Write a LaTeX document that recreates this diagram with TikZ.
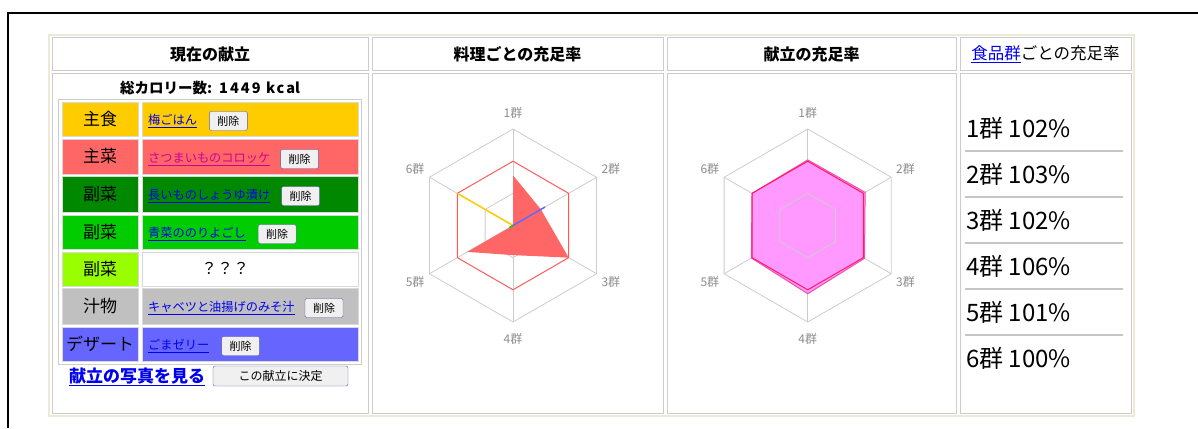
\documentclass[tikz,border=0pt]{standalone}
\usepackage{fontspec}
\setmainfont{Noto Sans CJK JP}
\usetikzlibrary{positioning}
\definecolor{linkblue}{HTML}{0000EE}
\definecolor{linkvisit}{HTML}{CC0099}
\definecolor{btngray}{HTML}{F0F0F0}
\definecolor{tblframe}{HTML}{ECE9D8}
\definecolor{shushoku}{HTML}{FFCC00}
\definecolor{shusai}{HTML}{FF6666}
\definecolor{fukusaiA}{HTML}{008800}
\definecolor{fukusaiB}{HTML}{00CC00}
\definecolor{fukusaiC}{HTML}{99FF00}
\definecolor{shirumono}{HTML}{C0C0C0}
\definecolor{dessert}{HTML}{6666FF}
\definecolor{gridgray}{HTML}{CCCCCC}
\definecolor{fullred}{HTML}{FF5A5A}
\definecolor{menupink}{HTML}{FF99FF}
\definecolor{menuedge}{HTML}{FF1A66}

\begin{document}
\begin{tikzpicture}[x=1pt, y=-1pt,
  hcell/.style={draw=gray!40, line width=1pt, minimum height=32pt, inner sep=0pt,
    font=\fontsize{16}{16}\selectfont\bfseries},
  bcell/.style={draw=gray!40, line width=1pt, minimum height=340pt, inner sep=0pt},
  kind/.style={draw=gray!30, minimum width=76pt, inner sep=0pt,
    font=\fontsize{17}{17}\selectfont},
  dish/.style={draw=gray!30, minimum width=216pt, inner sep=0pt},
  link/.style={anchor=west, inner sep=0pt, text=linkblue, font=\fontsize{12.2}{12.2}\selectfont},
  btn/.style={draw=gray!70!blue, fill=btngray, rounded corners=2pt, minimum width=38pt,
    minimum height=19pt, inner sep=0pt, font=\fontsize{11}{11}\selectfont},
  grid/.style={draw=gridgray, line width=0.8pt},
  axlabel/.style={text=gray!90, font=\fontsize{12}{12}\selectfont},
  score/.style={anchor=west, inner sep=0pt, font=\fontsize{24}{24}\selectfont},
  sep/.style={draw=gray!45, line width=1.5pt}]
  \useasboundingbox (0,0) rectangle (1198,428);
  \draw[line width=2pt] (8,428) -- (8,13) -- (1198,13);
  \draw[tblframe, line width=2pt] (49,35) rectangle (1134,416);

  % headers
  \node[hcell, minimum width=316pt] (h1) at (210,54) {現在の献立};
  \node[hcell, minimum width=291pt] (h2) at (517.5,54) {料理ごとの充足率};
  \node[hcell, minimum width=289pt] (h3) at (811.5,54) {献立の充足率};
  \node[hcell, minimum width=171pt, font=\fontsize{16.5}{16.5}\selectfont] (h4) at (1045.5,54)
    {{\color{linkblue}\underline{食品群}}ごとの充足率};
  \node[bcell, minimum width=316pt] (c1) at (210,243) {};
  \node[bcell, minimum width=291pt] (c2) at (517.5,243) {};
  \node[bcell, minimum width=289pt] (c3) at (811.5,243) {};
  \node[bcell, minimum width=171pt] (c4) at (1045.5,243) {};

  % current menu
  \node[font=\fontsize{14.5}{14.5}\selectfont\bfseries] (kcal) at (210,88)
    {総カロリー数{\addfontfeatures{LetterSpace=14}: 1449 kca}l};
  \draw[gray!40, line width=1pt] (58,99) rectangle (361,364);
  \foreach \y/\h/\col/\lbl [count=\i] in {119/34/shushoku/主食, 156.5/35/shusai/主菜,
      194/36/fukusaiA/副菜, 232/34/fukusaiB/副菜, 269/34/fukusaiC/副菜,
      306/36/shirumono/汁物, 344/34/dessert/デザート} {
    \node[kind, fill=\col, minimum height=\h pt] (k\i) at (100,\y) {\lbl};
    \node[dish, fill=\col, minimum height=\h pt] (d\i) at (250,\y) {};
  }
  \fill[white] (d5.south west) rectangle (d5.north east);
  \draw[gray!30] (d5.south west) rectangle (d5.north east);

  \node[link] (l1) at (148,121) {\underline{梅ごはん}};
  \node[btn, right=12pt of l1] (b1) {削除};
  \node[link, text=linkvisit] (l2) at (148,159) {\underline{さつまいものコロッケ}};
  \node[btn, right=10pt of l2] (b2) {削除};
  \node[link] (l3) at (148,196) {\underline{長いものしょうゆ漬け}};
  \node[btn, right=11pt of l3] (b3) {削除};
  \node[link] (l4) at (148,234) {\underline{青菜ののりよごし}};
  \node[btn, right=12pt of l4] (b4) {削除};
  \node[font=\fontsize{16}{16}\selectfont] (q5) at (225,268) {？？？};
  \node[link] (l6) at (148,308) {\underline{キャベツと油揚げのみそ汁}};
  \node[btn, right=10pt of l6] (b6) {削除};
  \node[link] (l7) at (148,346) {\underline{ごまゼリー}};
  \node[btn, right=12pt of l7] (b7) {削除};

  \node[link, font=\fontsize{17}{17}\selectfont\bfseries] (photo) at (69,377) {\underline{献立の写真を見る}};
  \node[btn, minimum width=135pt, minimum height=20pt, font=\fontsize{12}{12}\selectfont]
    (decide) at (280.5,376) {この献立に決定};

  % radar per dish
  \coordinate (ctr1) at (513,225.5);
  \begin{scope}[shift={(ctr1)}]
    \draw[grid] (-90:96.5) \foreach \a in {-30,30,...,210} { -- (\a:96.5) } -- cycle;
    \draw[grid] (-90:32.2) \foreach \a in {-30,30,...,210} { -- (\a:32.2) } -- cycle;
    \foreach \a in {-90,-30,...,210} \draw[grid] (0,0) -- (\a:96.5);
    \fill[shusai] (-90:50.2) -- (-30:32.2) -- (30:64.3) -- (90:29.6) -- (150:52.8) -- (0,0) -- cycle;
    \draw[fullred, line width=1pt] (-90:64.3) \foreach \a in {-30,30,...,210} { -- (\a:64.3) } -- cycle;
    \draw[shushoku, line width=1.5pt] (0,0) -- (210:64.3);
    \draw[dessert, line width=1.5pt] (0,0) -- (-30:37);
    \draw[fukusaiB, line width=1.5pt] (0,0) -- (150:4);
    \foreach \k in {1,...,6}
      \node[axlabel] (ga\k) at ({-150+60*\k}:113) {\k 群};
  \end{scope}

  % radar for the whole menu
  \coordinate (ctr2) at (807.7,225.5);
  \begin{scope}[shift={(ctr2)}]
    \draw[grid] (-90:96.5) \foreach \a in {-30,30,...,210} { -- (\a:96.5) } -- cycle;
    \foreach \a in {-90,-30,...,210} \draw[grid] (0,0) -- (\a:96.5);
    \filldraw[fill=menupink, draw=magenta!70, line width=1pt]
      (-90:65.6) -- (-30:66.3) -- (30:65.6) -- (90:68.2) -- (150:65.0) -- (210:64.3) -- cycle;
    \draw[grid] (-90:32.2) \foreach \a in {-30,30,...,210} { -- (\a:32.2) } -- cycle;
    \draw[menuedge, line width=1pt] (-90:64.3) \foreach \a in {-30,30,...,210} { -- (\a:64.3) } -- cycle;
    \foreach \k in {1,...,6}
      \node[axlabel] (gb\k) at ({-150+60*\k}:113) {\k 群};
  \end{scope}

  % rates per food group
  \foreach \p/\y [count=\i] in {102/128, 103/174, 102/220, 106/266, 101/312, 100/358}
    \node[score] (r\i) at (966,\y) {\i 群 \p\%};
  \foreach \y in {151,197,243,289,335}
    \draw[sep] (965,\y) -- (1123,\y);
\end{tikzpicture}
\end{document}
